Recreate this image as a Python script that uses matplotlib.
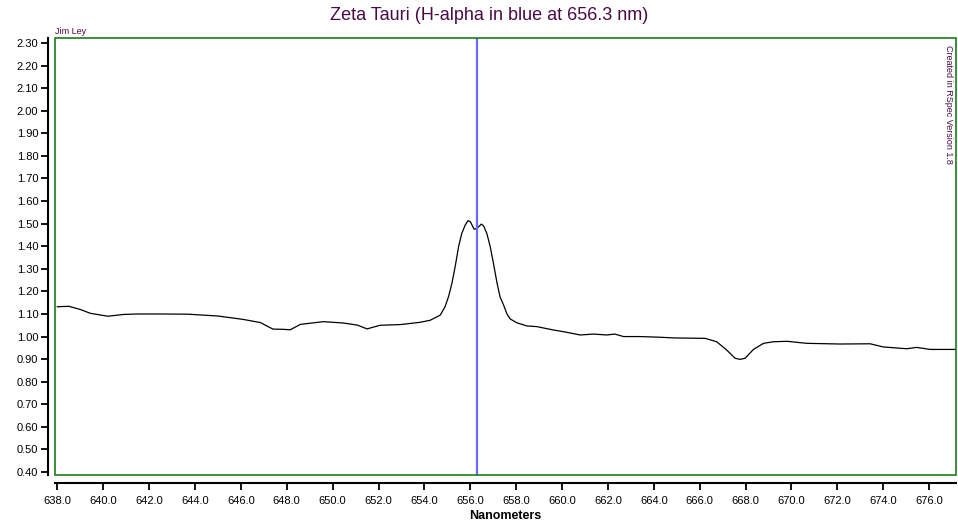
import matplotlib.pyplot as plt
from matplotlib.patches import Rectangle

# spectrum (wavelength nm, relative flux)
wavelength = [638.0, 638.5, 639.0, 639.44, 640.2, 640.9, 641.5, 642.5, 643.7, 645.0,
              646.1, 646.85, 647.15, 647.4, 647.85, 648.15, 648.6, 649.6, 650.46,
              651.07, 651.5, 652.07, 652.95, 653.8, 654.25, 654.69, 654.9, 655.05,
              655.2, 655.34, 655.49, 655.63, 655.78, 655.9, 656.0, 656.17, 656.29,
              656.48, 656.58, 656.72, 656.87, 657.01, 657.16, 657.3, 657.45, 657.6,
              657.74, 658.03, 658.47, 658.9, 659.63, 660.2, 660.79, 661.37, 661.95,
              662.3, 662.68, 663.4, 664.27, 664.85, 666.24, 666.74, 667.18, 667.54,
              667.76, 667.98, 668.34, 668.78, 669.21, 669.8, 670.67, 672.12, 673.43,
              674.0, 675.02, 675.46, 676.04, 677.2]
flux = [1.132, 1.134, 1.120, 1.103, 1.090, 1.098, 1.100, 1.100, 1.099, 1.091,
        1.076, 1.062, 1.046, 1.033, 1.032, 1.030, 1.054, 1.066, 1.060,
        1.051, 1.034, 1.050, 1.053, 1.063, 1.072, 1.095, 1.132, 1.176,
        1.236, 1.309, 1.398, 1.457, 1.494, 1.513, 1.509, 1.475, 1.479,
        1.498, 1.490, 1.457, 1.398, 1.324, 1.240, 1.175, 1.140, 1.100,
        1.078, 1.061, 1.047, 1.044, 1.029, 1.019, 1.007, 1.011, 1.007,
        1.011, 1.000, 1.000, 0.997, 0.994, 0.992, 0.977, 0.940, 0.904,
        0.899, 0.904, 0.943, 0.970, 0.977, 0.979, 0.970, 0.967, 0.968,
        0.954, 0.946, 0.952, 0.943, 0.943]

h_alpha = 656.3
x_ticks = [638 + 2 * i for i in range(20)]
y_ticks = [0.4 + 0.1 * i for i in range(20)]

purple = '#4a0a45'
plt.rcParams['font.family'] = ['Liberation Sans', 'DejaVu Sans']

fig = plt.figure(figsize=(9.58, 5.24), dpi=100)
ax = fig.add_axes([55 / 958, 49 / 524, 901 / 958, 437 / 524])

ax.plot(wavelength, flux, color='black', lw=0.9)
ax.axvline(h_alpha, color='#6a6aff', lw=1.6)

ax.set_xlim(637.9, 677.17)
ax.set_ylim(0.387, 2.322)
ax.set_xticks(x_ticks)
ax.set_xticklabels(['%.1f' % v for v in x_ticks])
ax.set_yticks(y_ticks)
ax.set_yticklabels(['%.2f' % v for v in y_ticks])

for s in ['top', 'right']:
    ax.spines[s].set_visible(False)
ax.spines['left'].set_position(('outward', 5))
ax.spines['bottom'].set_position(('outward', 6))
ax.spines['left'].set_linewidth(1.5)
ax.spines['bottom'].set_linewidth(1.5)
ax.tick_params(axis='both', direction='out', length=5, width=1.3,
               labelsize=8, pad=2, colors='black')
ax.tick_params(axis='x', pad=4)

# green plot frame
ax.add_patch(Rectangle((0, 0), 1, 1, transform=ax.transAxes, fill=False,
                       edgecolor='#1a7a1a', lw=1.2, clip_on=False, zorder=5))

ax.set_xlabel('Nanometers', fontsize=9, fontweight='bold', labelpad=3)
fig.text(489 / 958, 1 - 16 / 524, 'Zeta Tauri (H-alpha in blue at 656.3 nm)',
         ha='center', va='center', fontsize=13, color=purple)
fig.text(55 / 958, 1 - 31 / 524, 'Jim Ley', ha='left', va='center',
         fontsize=6.5, color=purple)
ax.text(0.997, 0.985, 'Created in RSpec Version 1.8', transform=ax.transAxes,
        rotation=-90, ha='right', va='top', fontsize=6.5, color=purple)

fig.savefig('out.png', dpi=100, facecolor='white')
